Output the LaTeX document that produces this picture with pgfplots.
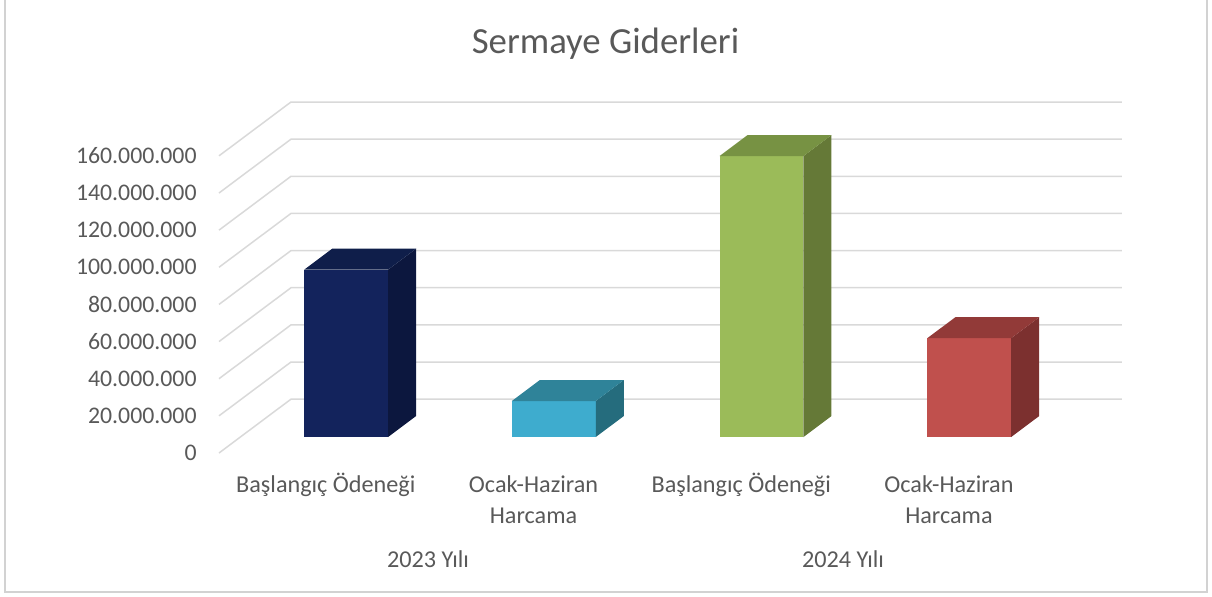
\documentclass[border=0pt]{standalone}
\usepackage{fontspec}
\setmainfont{Carlito}
\usepackage{pgfplots}
\pgfplotsset{compat=1.18}
\definecolor{txt}{RGB}{89,89,89}
\definecolor{gridc}{RGB}{217,217,217}
\definecolor{borderc}{RGB}{210,210,210}
\definecolor{aF}{RGB}{19,35,92}
\definecolor{aT}{RGB}{15,30,74}
\definecolor{aS}{RGB}{12,23,62}
\definecolor{bF}{RGB}{62,172,206}
\definecolor{bT}{RGB}{47,131,153}
\definecolor{bS}{RGB}{37,108,125}
\definecolor{cF}{RGB}{155,187,89}
\definecolor{cT}{RGB}{119,146,67}
\definecolor{cS}{RGB}{101,121,55}
\definecolor{dF}{RGB}{192,80,77}
\definecolor{dT}{RGB}{146,58,56}
\definecolor{dS}{RGB}{124,48,47}
\begin{document}
\begin{tikzpicture}
\path[use as bounding box] (-109.5pt,-71.5pt) rectangle (496.5pt,226.5pt);
\draw[borderc, line width=0.75pt] (-107pt,227pt) -- (-107pt,-69.5pt) -- (494pt,-69.5pt) -- (494pt,227pt);
\begin{axis}[
  at={(0pt,0pt)}, anchor=south west,
  scale only axis, width=451.4pt, height=175.5pt,
  xmin=-0.5, xmax=3.8467, ymin=0, ymax=189,
  axis line style={draw=none}, tick style={draw=none},
  clip=false,
  ytick={0,20,40,60,80,100,120,140,160},
  yticklabels={0,20.000.000,40.000.000,60.000.000,80.000.000,100.000.000,120.000.000,140.000.000,160.000.000},
  yticklabel style={anchor=east, inner sep=0pt, xshift=-11pt, font=\fontsize{11.9}{14}\selectfont, text=txt},
  xtick={0,1,2,3},
  xticklabels={{Başlangıç Ödeneği\\\mbox{}}, {Ocak-Haziran\\Harcama}, {Başlangıç Ödeneği\\\mbox{}}, {Ocak-Haziran\\Harcama}},
  xticklabel style={align=center, anchor=base, inner sep=0pt, yshift=-35pt, xshift=1.5pt, font=\fontsize{12.1}{15.5}\selectfont, text=txt},
]
% back wall and side wall gridlines (value v at front, v+29 at back)
\addplot[gridc, line width=0.75pt] coordinates {(-0.5,0) (-0.1533,29) (3.8467,29)};
\addplot[gridc, line width=0.75pt] coordinates {(-0.5,20) (-0.1533,49) (3.8467,49)};
\addplot[gridc, line width=0.75pt] coordinates {(-0.5,40) (-0.1533,69) (3.8467,69)};
\addplot[gridc, line width=0.75pt] coordinates {(-0.5,60) (-0.1533,89) (3.8467,89)};
\addplot[gridc, line width=0.75pt] coordinates {(-0.5,80) (-0.1533,109) (3.8467,109)};
\addplot[gridc, line width=0.75pt] coordinates {(-0.5,100) (-0.1533,129) (3.8467,129)};
\addplot[gridc, line width=0.75pt] coordinates {(-0.5,120) (-0.1533,149) (3.8467,149)};
\addplot[gridc, line width=0.75pt] coordinates {(-0.5,140) (-0.1533,169) (3.8467,169)};
\addplot[gridc, line width=0.75pt] coordinates {(-0.5,160) (-0.1533,189) (3.8467,189)};
% Bars (values in millions): 90.1, 19.4, 151.3, 53.2 ; base at depth offset 8.6, back offset 19.9
% 2023 Baslangic Odenegi = 90.1
\addplot[fill=aF, draw=none] coordinates {(-0.09,8.6) (0.314,8.6) (0.314,98.7) (-0.09,98.7)} -- cycle;
\addplot[fill=aS, draw=none] coordinates {(0.314,8.6) (0.449,19.9) (0.449,110.0) (0.314,98.7)} -- cycle;
\addplot[fill=aT, draw=none] coordinates {(-0.09,98.7) (0.314,98.7) (0.449,110.0) (0.045,110.0)} -- cycle;
% 2023 Ocak-Haziran Harcama = 19.4
\addplot[fill=bF, draw=none] coordinates {(0.91,8.6) (1.314,8.6) (1.314,28.0) (0.91,28.0)} -- cycle;
\addplot[fill=bS, draw=none] coordinates {(1.314,8.6) (1.449,19.9) (1.449,39.3) (1.314,28.0)} -- cycle;
\addplot[fill=bT, draw=none] coordinates {(0.91,28.0) (1.314,28.0) (1.449,39.3) (1.045,39.3)} -- cycle;
% 2024 Baslangic Odenegi = 151.3
\addplot[fill=cF, draw=none] coordinates {(1.91,8.6) (2.314,8.6) (2.314,159.9) (1.91,159.9)} -- cycle;
\addplot[fill=cS, draw=none] coordinates {(2.314,8.6) (2.449,19.9) (2.449,171.2) (2.314,159.9)} -- cycle;
\addplot[fill=cT, draw=none] coordinates {(1.91,159.9) (2.314,159.9) (2.449,171.2) (2.045,171.2)} -- cycle;
% 2024 Ocak-Haziran Harcama = 53.2
\addplot[fill=dF, draw=none] coordinates {(2.91,8.6) (3.314,8.6) (3.314,61.8) (2.91,61.8)} -- cycle;
\addplot[fill=dS, draw=none] coordinates {(3.314,8.6) (3.449,19.9) (3.449,73.1) (3.314,61.8)} -- cycle;
\addplot[fill=dT, draw=none] coordinates {(2.91,61.8) (3.314,61.8) (3.449,73.1) (3.045,73.1)} -- cycle;
\end{axis}
\node[anchor=base, text=txt, font=\fontsize{18.4}{22}\selectfont] at (193.25pt,200pt) {Sermaye Giderleri};
\node[anchor=base, text=txt, font=\fontsize{12.1}{15}\selectfont] at (104.5pt,-57pt) {2023 Yılı};
\node[anchor=base, text=txt, font=\fontsize{12.1}{15}\selectfont] at (312pt,-57pt) {2024 Yılı};
\end{tikzpicture}
\end{document}
